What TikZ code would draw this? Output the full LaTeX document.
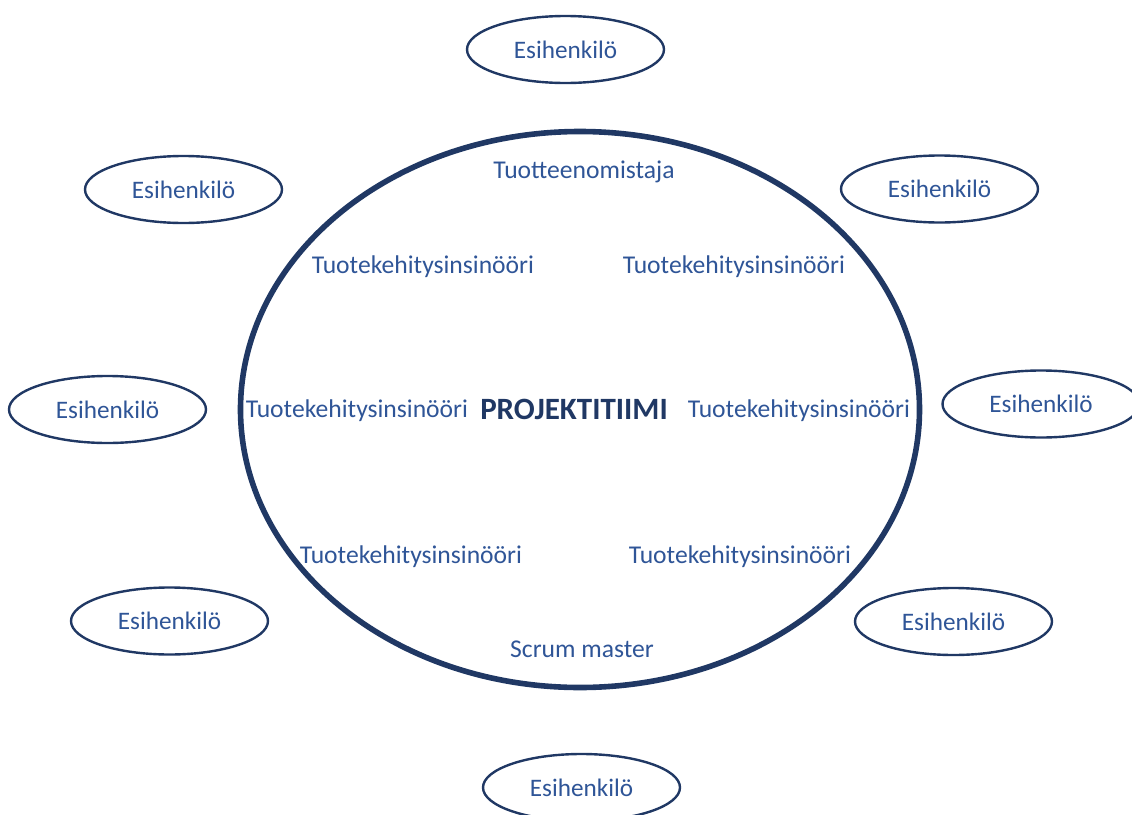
\documentclass[tikz,border=0pt]{standalone}
\usepackage{fontspec}
\setmainfont{Carlito}
\usepackage{tikz}
\usetikzlibrary{shapes.geometric}
\definecolor{navy}{RGB}{32,56,100}
\definecolor{txtblue}{RGB}{47,85,151}

\begin{document}
\begin{tikzpicture}[
  x=0.5pt, y=-0.5pt,
  font=\fontsize{12.6}{14}\selectfont,
  team/.style={draw=navy, line width=2.8pt, ellipse, minimum width=339.5pt, minimum height=278pt, inner sep=0pt},
  boss/.style={draw=navy, line width=1.2pt, ellipse, minimum width=98.5pt, minimum height=33.5pt, inner sep=0pt, text=txtblue},
  role/.style={text=txtblue, inner sep=1pt, font=\fontsize{12.8}{14}\selectfont},
  title/.style={text=navy, font=\fontsize{15.5}{18}\selectfont\bfseries, inner sep=1pt}
]
\useasboundingbox (0,0) rectangle (1132,815);
\clip (0,0) rectangle (1132,815);

% team
\node[team] (team) at (580,409.5) {};
\node[title] (name) at (574,409) {PROJEKTITIIMI};

\node[role] (owner) at (584,171.5) {Tuotteenomistaja};
\node[role] (eng1) at (423,266.5) {Tuotekehitysinsinööri};
\node[role] (eng2) at (734,266.5) {Tuotekehitysinsinööri};
\node[role] (eng3) at (357,410.5) {Tuotekehitysinsinööri};
\node[role] (eng4) at (799,410.5) {Tuotekehitysinsinööri};
\node[role] (eng5) at (411,556.5) {Tuotekehitysinsinööri};
\node[role] (eng6) at (740,556.5) {Tuotekehitysinsinööri};
\node[role] (sm) at (582,649.5) {Scrum master};

% supervisors round the team
\foreach \n/\x/\y in {b1/565.5/49.5, b2/183.5/189.5, b3/939.5/189, b4/107.5/409.5,
                      b5/1041/404, b6/169.5/621, b7/953.5/621.5, b8/581.5/787.5}
  \node[boss] (\n) at (\x,\y) {Esihenkilö};
\end{tikzpicture}
\end{document}
